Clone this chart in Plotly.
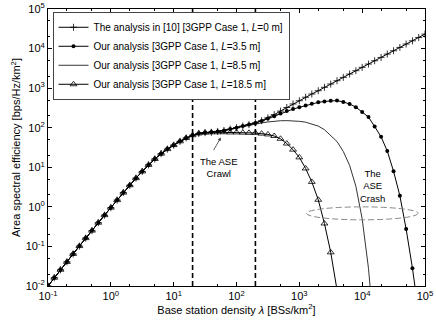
import plotly.graph_objects as go

# BS density grid [BSs/km^2], 10 points per decade
density = [0.1, 0.126, 0.158, 0.2, 0.251, 0.316, 0.398, 0.501, 0.631, 0.794,
           1, 1.26, 1.58, 2, 2.51, 3.16, 3.98, 5.01, 6.31, 7.94,
           10, 12.6, 15.8, 20, 25.1, 31.6, 39.8, 50.1, 63.1, 79.4,
           100, 126, 158, 200, 251, 316, 398, 501, 631, 794,
           1000, 1260, 1580, 2000, 2510, 3160, 3980, 5010, 6310, 7940,
           10000, 12600, 15800, 20000, 25100, 31600, 39800, 50100, 63100, 79400,
           100000]

# shared part of all curves (0.1 .. ~40 BSs/km^2)
ase_common = [0.01, 0.0162, 0.0257, 0.0407, 0.0646, 0.102, 0.162, 0.251, 0.398, 0.617,
              0.955, 1.48, 2.29, 3.51, 5.31, 7.85, 11.5, 16.2, 22.1, 28.8,
              36.3, 45.2, 55.0, 64.6, 71.6, 75.0, 76.5]

ase_L0_tail = [80.4, 85.1, 92.3, 100, 110, 120, 133, 151, 178, 214, 263, 324, 398,
               480, 590, 710, 860, 1050, 1270, 1540, 1870, 2270, 2760, 3350, 4060,
               4930, 5980, 7260, 8810, 10700, 13000, 15700, 19100, 23200]
ase_L35_tail = [80.4, 85.1, 92.3, 100, 110, 120, 132, 148, 170, 195, 229, 263, 295,
                328, 363, 403, 437, 462, 479, 484, 447, 398, 331, 251, 186, 107,
                58.9, 25.7, 7.94, 1.91, 0.275, 0.0282, 0.002]
ase_L85_tail = [80.4, 85.1, 92.3, 100, 107, 115, 123, 132, 140, 146, 150, 151, 150,
                145, 138, 126, 110, 89.1, 64.6, 44.7, 25.1, 11.2, 3.31, 0.50, 0.028,
                0.0005]
ase_L185_tail = [76.7, 76.7, 75.9, 75.9, 75.0, 74.1, 73.3, 70.8, 67.6, 61.7, 52.5,
                 39.8, 27.9, 17.8, 9.33, 4.27, 1.51, 0.38, 0.0708, 0.0079]

ase_L0 = ase_common + ase_L0_tail
ase_L35 = ase_common + ase_L35_tail
ase_L85 = ase_common + ase_L85_tail
ase_L185 = ase_common + ase_L185_tail

crawl_bounds = [20, 200]
crash_box = dict(x0=1300, x1=77600, y0=0.47, y1=1.0)

x_tickvals = [0.1, 1, 10, 100, 1000, 10000, 100000]
x_ticktext = ['10<sup>-1</sup>', '10<sup>0</sup>', '10<sup>1</sup>', '10<sup>2</sup>',
              '10<sup>3</sup>', '10<sup>4</sup>', '10<sup>5</sup>']
y_tickvals = [0.01, 0.1, 1, 10, 100, 1000, 10000, 100000]
y_ticktext = ['10<sup>-2</sup>', '10<sup>-1</sup>', '10<sup>0</sup>', '10<sup>1</sup>',
              '10<sup>2</sup>', '10<sup>3</sup>', '10<sup>4</sup>', '10<sup>5</sup>']

FONT = 'Liberation Sans, Arial, sans-serif'

fig = go.Figure()
fig.add_trace(go.Scatter(x=density[:len(ase_L0)], y=ase_L0, mode='lines+markers',
                         name='The analysis in [10] [3GPP Case 1, <i>L</i>=0 m]',
                         line=dict(color='black', width=1),
                         marker=dict(symbol='cross-thin', size=5, color='black',
                                     line=dict(color='black', width=0.8))))
fig.add_trace(go.Scatter(x=density[:len(ase_L35)], y=ase_L35, mode='lines+markers',
                         name='Our analysis [3GPP Case 1, <i>L</i>=3.5 m]',
                         line=dict(color='black', width=1),
                         marker=dict(symbol='circle', size=4, color='black')))
fig.add_trace(go.Scatter(x=density[:len(ase_L85)], y=ase_L85, mode='lines',
                         name='Our analysis [3GPP Case 1, <i>L</i>=8.5 m]',
                         line=dict(color='black', width=0.8)))
fig.add_trace(go.Scatter(x=density[:len(ase_L185)], y=ase_L185, mode='lines+markers',
                         name='Our analysis [3GPP Case 1, <i>L</i>=18.5 m]',
                         line=dict(color='black', width=1),
                         marker=dict(symbol='triangle-up-open', size=6, color='black',
                                     line=dict(width=0.8))))
for xb in crawl_bounds:
    fig.add_trace(go.Scatter(x=[xb, xb], y=[y_tickvals[0], y_tickvals[-1]], mode='lines',
                             showlegend=False, hoverinfo='skip',
                             line=dict(color='black', width=1.6, dash='5px,3px')))

# ellipse marking the ASE crash
fig.add_shape(type='circle', xref='x', yref='y', **crash_box,
              line=dict(color='#888888', width=1, dash='6px,3px'))

fig.add_annotation(x=1.75, y=1.75, xref='x', yref='y', text='', showarrow=True,
                   arrowhead=2, arrowsize=0.8, arrowwidth=0.8, arrowcolor='#333333',
                   ax=-8, ay=14)
fig.add_annotation(x=1.72, y=1.0, xref='x', yref='y', text='The ASE<br>Crawl',
                   showarrow=False, font=dict(family=FONT, size=9.5, color='black'))
fig.add_annotation(x=4.17, y=0.52, xref='x', yref='y', text='The<br>ASE<br>Crash',
                   showarrow=False, font=dict(family=FONT, size=9.5, color='black'))

axis_common = dict(type='log', showline=True, linecolor='black', linewidth=1, mirror='allticks',
                   ticks='inside', ticklen=4, tickcolor='black', showgrid=False, zeroline=False,
                   automargin=False,
                   tickfont=dict(family=FONT, size=11, color='black'),
                   minor=dict(ticks='inside', ticklen=2, tickcolor='black', showgrid=False))

fig.update_xaxes(**axis_common, range=[-1, 5], tickvals=x_tickvals, ticktext=x_ticktext,
                 title=dict(text='Base station density <i>λ</i> [BSs/km<sup>2</sup>]',
                            font=dict(family=FONT, size=11, color='black'), standoff=4))
fig.update_yaxes(**axis_common, range=[-2, 5], tickvals=y_tickvals, ticktext=y_ticktext,
                 title=dict(text='Area spectral efficiency [bps/Hz/km<sup>2</sup>]',
                            font=dict(family=FONT, size=11, color='black'), standoff=2))

fig.update_layout(width=436, height=327, margin=dict(l=48, r=11, t=9, b=41),
                  plot_bgcolor='white', paper_bgcolor='white',
                  font=dict(family=FONT, size=11, color='black'),
                  legend=dict(x=0.012, y=0.99, xanchor='left', yanchor='top',
                              bgcolor='white', bordercolor='#444444', borderwidth=1,
                              font=dict(family=FONT, size=10, color='black'),
                              itemwidth=30, tracegroupgap=0))

# drop the browser's default page margin so the figure sits at the window's corner
fig.write_html('out.html', config={'displayModeBar': False},
               post_script="document.body.style.margin='0';")
